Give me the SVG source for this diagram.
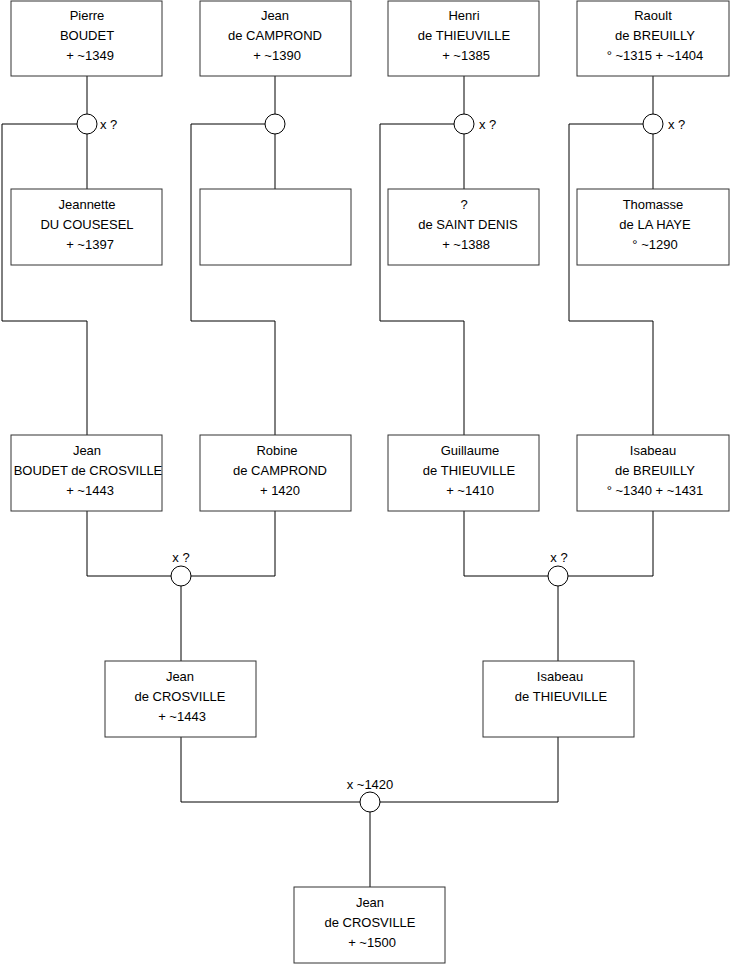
<svg xmlns="http://www.w3.org/2000/svg" width="740" height="975" viewBox="0 0 740 975">
<style>
.box{fill:#fff;stroke:#333;stroke-width:1}
.ln{fill:none;stroke:#000;stroke-width:1}
.ring{fill:#fff;stroke:#000;stroke-width:1}
text{font-family:"Liberation Sans",Arial,sans-serif;font-size:13px;fill:#000;text-anchor:middle}
.lbl{text-anchor:start}
</style>
<rect width="740" height="975" fill="#fff"/>
<g id="connectors">
<path class="ln" d="M87,76V189M2,124H87M2,124V321H87V435"/>
<path class="ln" d="M275,76V189M191,124H275M191,124V321H275V435"/>
<path class="ln" d="M464,76V189M380,124H464M380,124V321H464V435"/>
<path class="ln" d="M653,76V189M569,124H653M569,124V321H653V435"/>
<path class="ln" d="M87,511V576H275V511M181,576V661"/>
<path class="ln" d="M464,511V576H653V511M558,576V661"/>
<path class="ln" d="M181,737V802H558V737M370,802V887"/>
<circle class="ring" cx="87" cy="124" r="10"/>
<circle class="ring" cx="275" cy="124" r="10"/>
<circle class="ring" cx="464" cy="124" r="10"/>
<circle class="ring" cx="653" cy="124" r="10"/>
<circle class="ring" cx="181" cy="576" r="10"/>
<circle class="ring" cx="558" cy="576" r="10"/>
<circle class="ring" cx="370" cy="802" r="10"/>
<text class="lbl" x="100" y="129">x ?</text>
<text class="lbl" x="479" y="129">x ?</text>
<text class="lbl" x="668" y="129">x ?</text>
<text x="181" y="562">x ?</text>
<text x="559" y="562">x ?</text>
<text x="370" y="789">x ~1420</text>
</g>
<g id="pierre"><rect class="box" x="11" y="1" width="151" height="75"/><text x="87" y="20">Pierre</text><text x="87" y="40">BOUDET</text><text x="90" y="60">+ ~1349</text></g>
<g id="jean_camprond"><rect class="box" x="200" y="1" width="151" height="75"/><text x="275" y="20">Jean</text><text x="275" y="40">de CAMPROND</text><text x="277" y="60">+ ~1390</text></g>
<g id="henri"><rect class="box" x="388" y="1" width="151" height="75"/><text x="464" y="20">Henri</text><text x="464" y="40">de THIEUVILLE</text><text x="466" y="60">+ ~1385</text></g>
<g id="raoult"><rect class="box" x="577" y="1" width="152" height="75"/><text x="653" y="20">Raoult</text><text x="655" y="40">de BREUILLY</text><text x="655" y="60">° ~1315 + ~1404</text></g>
<g id="jeannette"><rect class="box" x="11" y="189" width="151" height="76"/><text x="87" y="209">Jeannette</text><text x="87" y="229">DU COUSESEL</text><text x="90" y="249">+ ~1397</text></g>
<g id="unknown"><rect class="box" x="200" y="189" width="151" height="76"/></g>
<g id="saint_denis"><rect class="box" x="388" y="189" width="151" height="76"/><text x="464" y="209">?</text><text x="468" y="229">de SAINT DENIS</text><text x="466" y="249">+ ~1388</text></g>
<g id="thomasse"><rect class="box" x="577" y="189" width="152" height="76"/><text x="653" y="209">Thomasse</text><text x="655" y="229">de LA HAYE</text><text x="655" y="249">° ~1290</text></g>
<g id="jean_boudet"><rect class="box" x="11" y="435" width="151" height="76"/><text x="87" y="455">Jean</text><text x="88" y="475">BOUDET de CROSVILLE</text><text x="90" y="495">+ ~1443</text></g>
<g id="robine"><rect class="box" x="200" y="435" width="151" height="76"/><text x="277" y="455">Robine</text><text x="280" y="475">de CAMPROND</text><text x="280" y="495">+ 1420</text></g>
<g id="guillaume"><rect class="box" x="388" y="435" width="151" height="76"/><text x="470" y="455">Guillaume</text><text x="469" y="475">de THIEUVILLE</text><text x="470" y="495">+ ~1410</text></g>
<g id="isabeau_breuilly"><rect class="box" x="577" y="435" width="152" height="76"/><text x="653" y="455">Isabeau</text><text x="655" y="475">de BREUILLY</text><text x="655" y="495">° ~1340 + ~1431</text></g>
<g id="jean_crosville"><rect class="box" x="105" y="661" width="151" height="76"/><text x="180" y="681">Jean</text><text x="180" y="701">de CROSVILLE</text><text x="182" y="721">+ ~1443</text></g>
<g id="isabeau_thieuville"><rect class="box" x="483" y="661" width="151" height="76"/><text x="560" y="681">Isabeau</text><text x="561" y="701">de THIEUVILLE</text></g>
<g id="jean_crosville_1500"><rect class="box" x="294" y="887" width="151" height="76"/><text x="370" y="907">Jean</text><text x="370" y="927">de CROSVILLE</text><text x="372" y="947">+ ~1500</text></g>
</svg>
